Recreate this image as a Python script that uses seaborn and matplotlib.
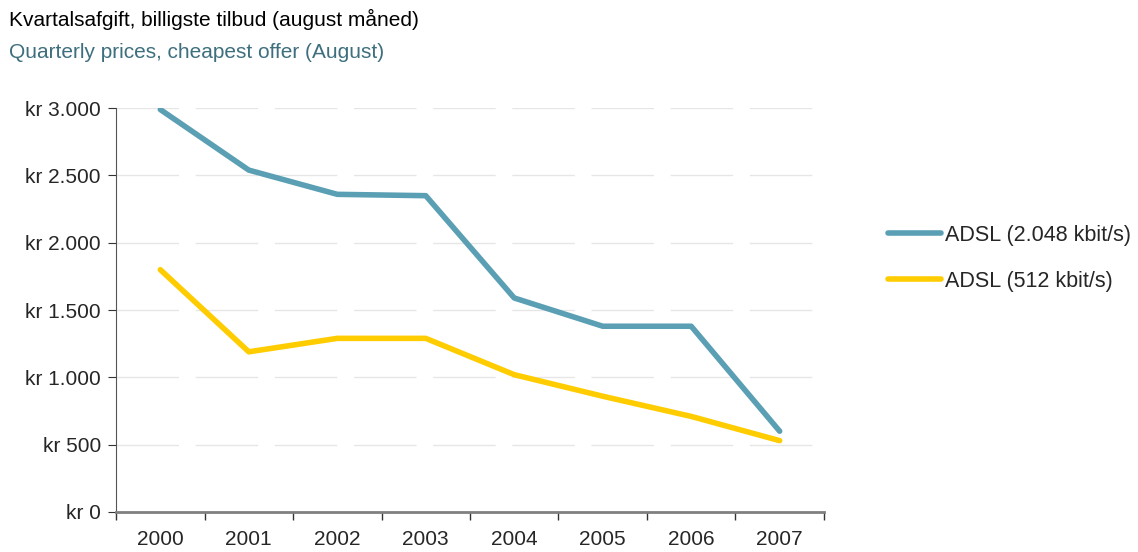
import pandas as pd
import seaborn as sns
import matplotlib.pyplot as plt
from matplotlib.ticker import FuncFormatter, FixedLocator

years = ['2000', '2001', '2002', '2003', '2004', '2005', '2006', '2007']
adsl_2048 = [2990, 2540, 2360, 2350, 1590, 1380, 1380, 600]
adsl_512 = [1800, 1190, 1290, 1290, 1020, 860, 710, 530]
series_names = ['ADSL (2.048 kbit/s)', 'ADSL (512 kbit/s)']
colors = ['#5B9FB4', '#FFCC00']

df = pd.DataFrame({
    'year': years * 2,
    'price': adsl_2048 + adsl_512,
    'series': [series_names[0]] * len(years) + [series_names[1]] * len(years),
})

sns.set_style('white')
plt.rcParams['font.family'] = ['Liberation Sans', 'DejaVu Sans']

fig = plt.figure(figsize=(11.38, 5.52), dpi=100)
ax = fig.add_axes([0.102, 0.0725, 0.622, 0.7315])

sns.lineplot(data=df, x='year', y='price', hue='series', palette=colors,
             linewidth=4, ax=ax, legend=False, solid_capstyle='round')

ax.set_xlim(-0.5, 7.5)
ax.set_ylim(0, 3000)
ax.set_yticks(range(0, 3001, 500))
ax.yaxis.set_major_formatter(FuncFormatter(lambda v, p: 'kr ' + f'{int(v):,}'.replace(',', '.')))
for y in range(500, 3001, 500):
    ax.axhline(y, color='#E6E6E6', lw=1, ls=(0, (45, 12)), zorder=0)

ax.xaxis.set_minor_locator(FixedLocator([i - 0.5 for i in range(len(years) + 1)]))
ax.tick_params(axis='x', which='major', length=0, pad=13, labelsize=15)
ax.tick_params(axis='x', which='minor', length=6, direction='out', color='#333333', width=1)
ax.tick_params(axis='y', length=6, direction='out', color='#333333', labelsize=15, pad=5, left=True)
ax.tick_params(axis='x', bottom=True, which='minor')

ax.set_xlabel('')
ax.set_ylabel('')
for s in ['top', 'right']:
    ax.spines[s].set_visible(False)
ax.spines['left'].set_color('#555555')
ax.spines['bottom'].set_color('#808080')
ax.spines['bottom'].set_linewidth(2)

fig.text(0.008, 0.965, 'Kvartalsafgift, billigste tilbud (august måned)', fontsize=15,
         color='black', va='center')
fig.text(0.008, 0.904, 'Quarterly prices, cheapest offer (August)', fontsize=15,
         color='#3D6F7F', va='center')

handles = [plt.Line2D([], [], color=c, lw=4, solid_capstyle='round') for c in colors]
fig.legend(handles, series_names, loc='center left', bbox_to_anchor=(0.78, 0.532),
           frameon=False, fontsize=15.5, handlelength=2.5, handletextpad=0.15,
           labelspacing=1.15, borderpad=0, borderaxespad=0)

fig.savefig('out.png', dpi=100)
